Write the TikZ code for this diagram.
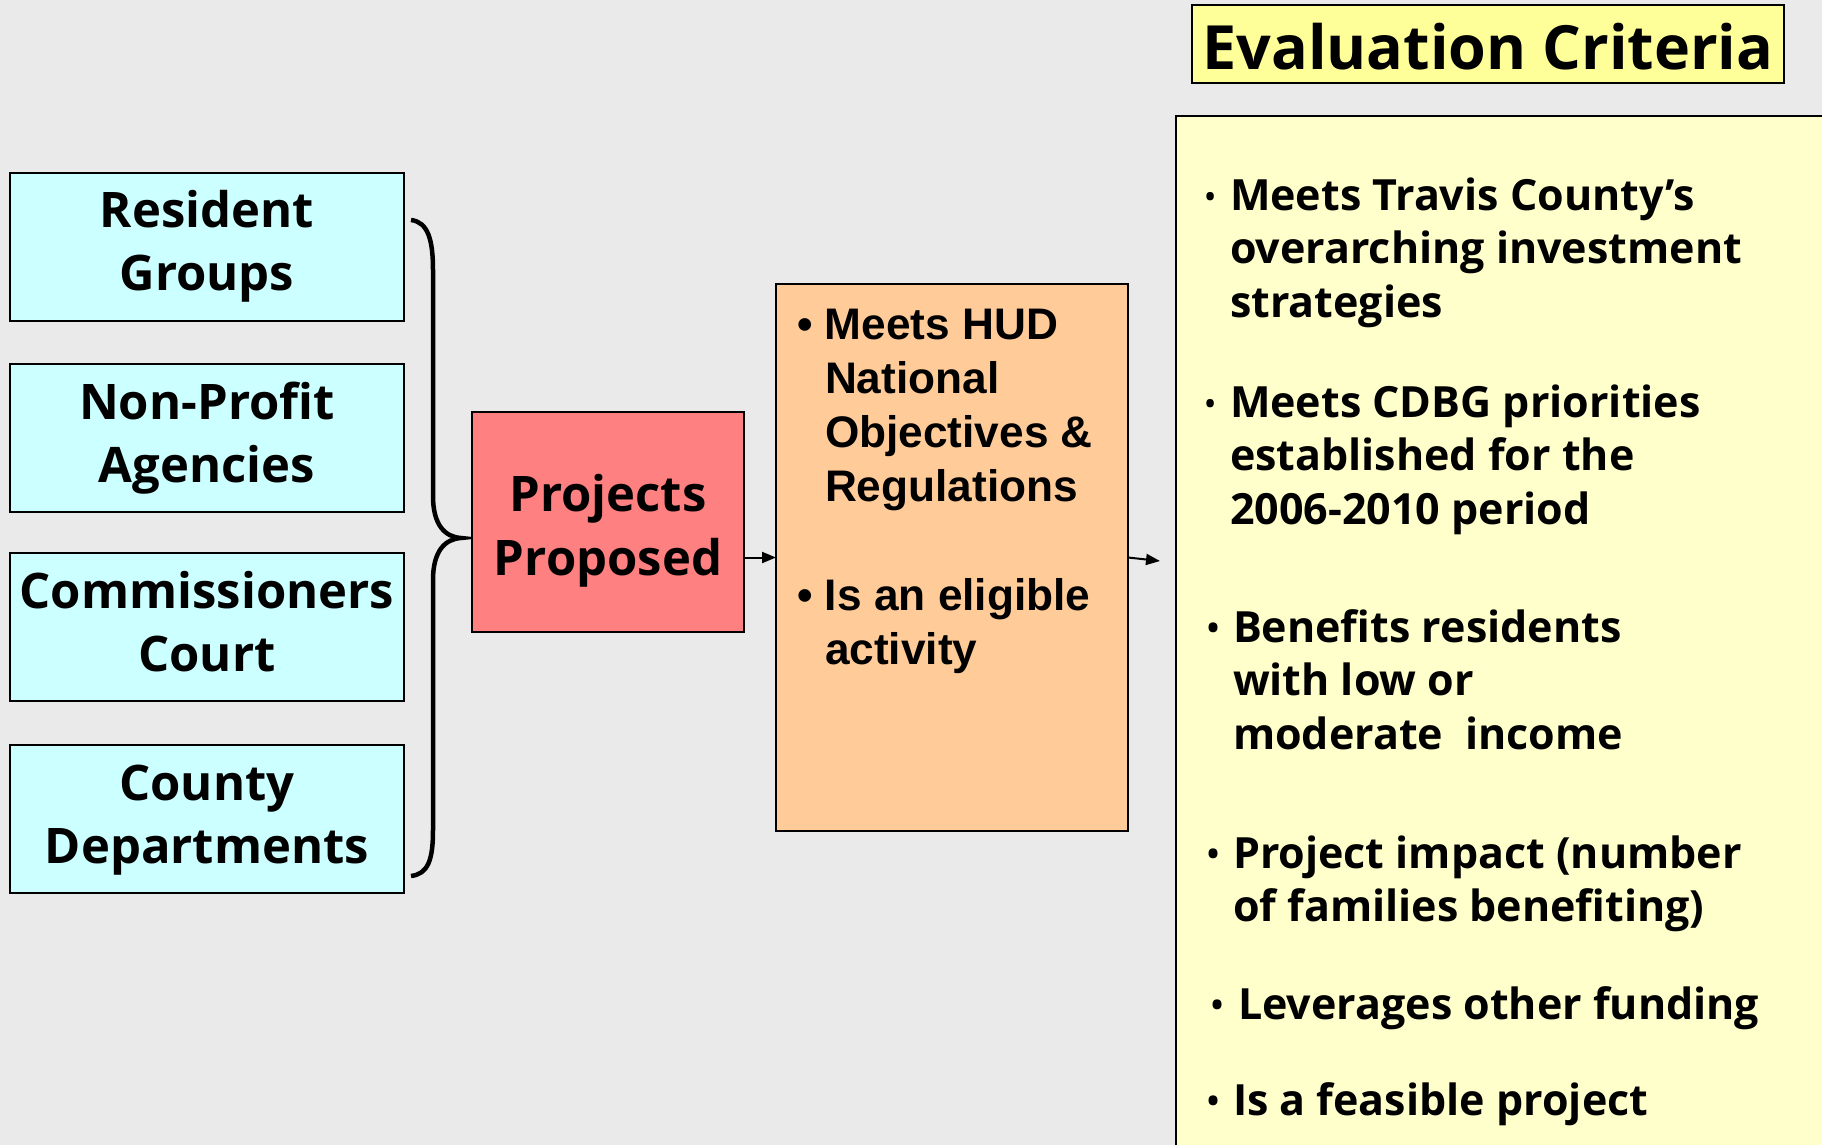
\documentclass[tikz,border=0pt]{standalone}
\usepackage{fontspec}
\setmainfont{Open Sans}
\newfontfamily\arialfont{Liberation Sans}
\usetikzlibrary{arrows.meta}
\definecolor{bg}{HTML}{EAEAEA}
\definecolor{cyanbox}{HTML}{CCFFFF}
\definecolor{redbox}{HTML}{FF8080}
\definecolor{orangebox}{HTML}{FFCC99}
\definecolor{critbox}{HTML}{FFFFCC}
\definecolor{titlebox}{HTML}{FFFF99}
\newcommand\gillbody{\fontsize{43}{53.5}\selectfont\bfseries}
\newcommand\bulsmall{{\fontsize{27}{27}\selectfont\raisebox{4pt}{•}}}
\newcommand\bulmid{{\fontsize{32}{32}\selectfont\raisebox{3pt}{•}}}
\tikzset{
  srcbox/.style={draw=black, line width=2pt, fill=cyanbox, minimum width=394pt,
    minimum height=148pt, inner sep=0pt, outer sep=0pt, align=center,
    font=\fontsize{49}{63}\selectfont\bfseries},
  plainbox/.style={draw=black, line width=2pt, inner sep=0pt, outer sep=0pt},
  txt/.style={inner sep=0pt, outer sep=0pt},
  crittxt/.style={txt, anchor=base west, font=\gillbody},
  arr/.style={line width=2pt, -{Triangle[length=14pt,width=11pt]}},
}
\begin{document}
\begin{tikzpicture}[x=1pt,y=-1pt]
\useasboundingbox (0,0) rectangle (1822,1145);
\fill[bg] (0,0) rectangle (1822,1145);
\clip (0,0) rectangle (1822,1145);

% source boxes
\node[srcbox] (res) at (207,246.5) {\strut Resident\\\strut Groups};
\node[srcbox] (npa) at (207,438) {\strut Non-Profit\\\strut Agencies};
\node[srcbox] (cc)  at (207,627) {\strut Commissioners\\\strut Court};
\node[srcbox] (cd)  at (207,819) {\strut County\\\strut Departments};

% brace
\draw[line width=4.5pt] (411,220) .. controls (428,222) and (433,240) .. (433,270)
  -- (433,496) .. controls (433,525) and (445,537) .. (461,538)
  .. controls (445,539) and (433,551) .. (433,580)
  -- (433,830) .. controls (433,860) and (428,874) .. (411,876);

% projects proposed
\node[plainbox, fill=redbox, minimum width=272pt, minimum height=220pt] (prop) at (608,522) {};
\node[txt, anchor=base, font=\fontsize{49}{64}\selectfont\bfseries] (proptxt) at (608,511)
  {\begin{tabular}[t]{@{}c@{}}Projects\\Proposed\end{tabular}};

% HUD box
\node[plainbox, fill=orangebox, minimum width=352pt, minimum height=547pt] (hud) at (952,557.5) {};
\node[txt, anchor=base west, font=\arialfont\fontsize{44.2}{54.3}\selectfont\bfseries] (hudtxt) at (797,339)
  {\begin{tabular}[t]{@{}p{28pt}@{}l@{}}•&Meets HUD\\&National\\&Objectives \&\\&Regulations\\&\\•&Is an eligible\\&activity\end{tabular}};

% criteria box
\node[draw=black, line width=2.5pt, fill=critbox, inner sep=0pt, outer sep=0pt,
  anchor=north west, minimum width=700pt, minimum height=1100pt] (crit) at (1176,116) {};
\node[draw=black, line width=2.5pt, fill=titlebox, inner sep=0pt, outer sep=0pt,
  minimum width=592pt, minimum height=78pt] (title) at (1488,44) {};
\node[txt, anchor=base, font=\fontsize{61}{61}\selectfont\bfseries] (titletxt) at (1488,70) {Evaluation Criteria};

\node[crittxt] (c1) at (1205,210)
  {\begin{tabular}[t]{@{}p{25pt}@{}l@{}}\bulsmall&Meets Travis County’s\\&overarching investment\\&strategies\end{tabular}};
\node[crittxt] (c2) at (1205,417)
  {\begin{tabular}[t]{@{}p{25pt}@{}l@{}}\bulsmall&Meets CDBG priorities\\&established for the\\&2006-2010 period\end{tabular}};
\node[crittxt] (c3) at (1207,642)
  {\begin{tabular}[t]{@{}p{26pt}@{}l@{}}\bulmid&Benefits residents\\&with low or\\&moderate \ income\end{tabular}};
\node[crittxt] (c4) at (1207,868)
  {\begin{tabular}[t]{@{}p{26pt}@{}l@{}}\bulmid&Project impact (number\\&of families benefiting)\end{tabular}};
\node[crittxt] (c5) at (1211,1019)
  {\begin{tabular}[t]{@{}p{27pt}@{}l@{}}\bulmid&Leverages other funding\end{tabular}};
\node[crittxt] (c6) at (1207,1115)
  {\begin{tabular}[t]{@{}p{26pt}@{}l@{}}\bulmid&Is a feasible project\end{tabular}};

% connectors
\coordinate (a2end) at (1160,561);
\draw[arr] (prop.east |- hud.west) -- (hud.west);
\draw[arr] (hud.east) -- (a2end);
\end{tikzpicture}
\end{document}
